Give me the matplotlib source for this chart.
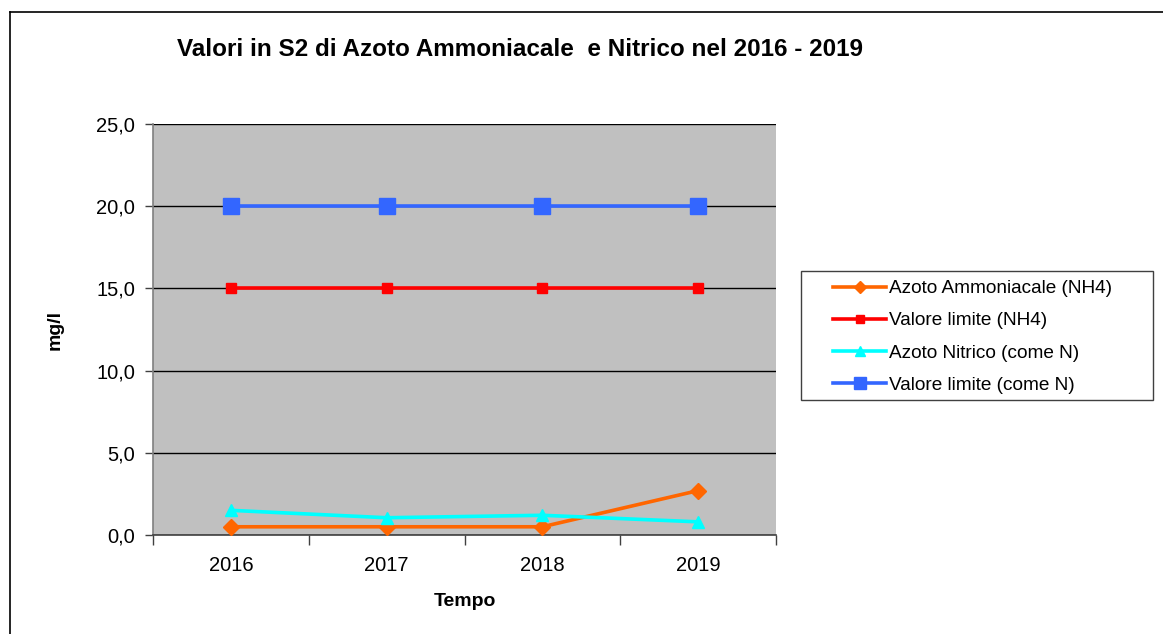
import matplotlib
matplotlib.use("Agg")
import matplotlib.pyplot as plt
from matplotlib.lines import Line2D
from matplotlib.patches import Rectangle

plt.rcParams['font.family'] = ['Liberation Sans', 'DejaVu Sans']

years = ['2016', '2017', '2018', '2019']
azoto_ammoniacale = [0.5, 0.5, 0.5, 2.7]
limite_nh4 = [15.0, 15.0, 15.0, 15.0]
azoto_nitrico = [1.5, 1.05, 1.2, 0.8]
limite_n = [20.0, 20.0, 20.0, 20.0]
y_ticks = [0, 5, 10, 15, 20, 25]
y_tick_labels = ['0,0', '5,0', '10,0', '15,0', '20,0', '25,0']

W, H = 1163, 634
fig = plt.figure(figsize=(W / 100, H / 100), dpi=100)

# outer frame of the chart (left and top visible)
fig.add_artist(Line2D([10 / W, 10 / W], [0, 1 - 12 / H], transform=fig.transFigure, color='black', lw=1.2))
fig.add_artist(Line2D([10 / W, 1], [1 - 12 / H, 1 - 12 / H], transform=fig.transFigure, color='black', lw=1.2))

ax = fig.add_axes([153 / W, 1 - 535 / H, (776 - 153) / W, (535 - 124) / H])
ax.set_facecolor('#C0C0C0')

x = list(range(len(years)))
ax.plot(x, azoto_ammoniacale, color='#FF6600', lw=2.6, marker='D', ms=8, label='Azoto Ammoniacale (NH4)', zorder=4)
ax.plot(x, limite_nh4, color='#FF0000', lw=2.6, marker='s', ms=7, label='Valore limite (NH4)', zorder=4)
ax.plot(x, azoto_nitrico, color='#00FFFF', lw=2.6, marker='^', ms=9, label='Azoto Nitrico (come N)', zorder=4)
ax.plot(x, limite_n, color='#3366FF', lw=2.6, marker='s', ms=11, label='Valore limite (come N)', zorder=4)

ax.set_xlim(-0.5, len(years) - 0.5)
ax.set_ylim(0, 25)
ax.set_yticks(y_ticks)
ax.set_yticklabels(y_tick_labels, fontsize=14.5)
ax.set_xticks(x)
ax.set_xticklabels(years, fontsize=14.5)
ax.tick_params(axis='x', which='major', length=0, pad=15)
ax.set_xticks([i - 0.5 for i in range(len(years) + 1)], minor=True)
ax.tick_params(axis='x', which='minor', length=7, color='#404040', width=1)
ax.tick_params(axis='y', length=6, color='#404040', width=1, pad=7)

ax.grid(axis='y', color='black', lw=1)
ax.set_axisbelow(True)
for s in ['top', 'right']:
    ax.spines[s].set_visible(False)
ax.spines['left'].set_color('#808080')
ax.spines['bottom'].set_color('#404040')
ax.spines['left'].set_linewidth(1.2)
ax.spines['bottom'].set_linewidth(1.2)

ax.set_ylabel('mg/l', fontsize=14, fontweight='bold')
ax.yaxis.set_label_coords((55 - 153) / 623, 0.5)
ax.set_xlabel('Tempo', fontsize=14, fontweight='bold')
ax.xaxis.set_label_coords(0.5, (535 - 601) / 411)
ax.xaxis.label.set_va('center')
ax.yaxis.label.set_va('center')

fig.text(520 / W, 1 - 50 / H, 'Valori in S2 di Azoto Ammoniacale  e Nitrico nel 2016 - 2019',
         ha='center', va='center', fontsize=17.5, fontweight='bold')

# legend frame
fig.add_artist(Rectangle((801 / W, 1 - 400 / H), (1153 - 801) / W, (400 - 271) / H,
                         transform=fig.transFigure, fill=True, facecolor='white',
                         edgecolor='#404040', lw=1, zorder=1))
leg = fig.legend(loc='upper left', bbox_to_anchor=(833 / W, 1 - 280 / H), fontsize=13.7,
                 frameon=False, handlelength=2.8, handletextpad=0.15, labelspacing=0.78,
                 borderpad=0, markerscale=0.75, borderaxespad=0)
leg.set_zorder(2)

fig.savefig('out.png', dpi=100)
